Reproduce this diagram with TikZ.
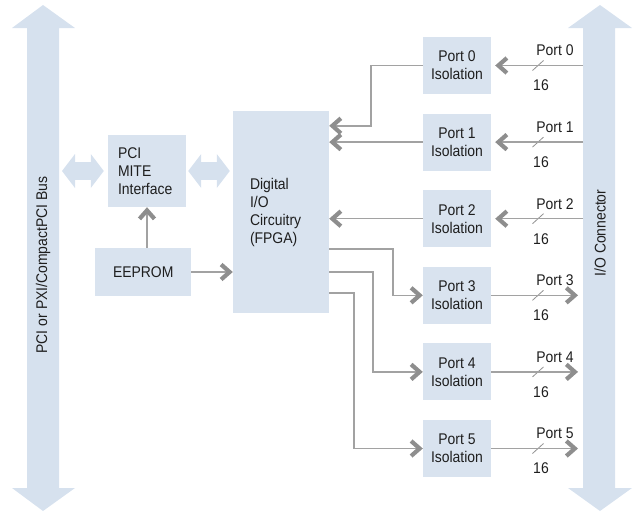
\documentclass[tikz,border=0pt]{standalone}
\usepackage{fontspec}
\setmainfont{Liberation Sans}[FakeStretch=0.9]
\usetikzlibrary{arrows.meta,positioning}

\definecolor{busblue}{HTML}{D6E1EE}
\definecolor{boxblue}{HTML}{D9E3EF}
\definecolor{wiregray}{HTML}{A2A2A2}
\definecolor{chevgray}{HTML}{8E8E8E}
\definecolor{textgray}{HTML}{1E1E1E}

\tikzset{
  chev/.tip={Straight Barb[length=8.5pt,width=15pt,line width=4.2pt,color=chevgray]},
  blockbox/.style={fill=boxblue,draw=none,inner sep=0pt,text=textgray},
  portbox/.style={blockbox,minimum width=68pt,minimum height=57pt,align=center},
  wire/.style={draw=wiregray,line width=1.5pt},
  tick/.style={draw=wiregray!90!black,line width=.8pt},
  fatlink/.style={draw=busblue,line width=18pt,
    {Triangle[length=13pt,width=34pt,line width=0pt]}-{Triangle[length=13pt,width=34pt,line width=0pt]}},
  lbl/.style={text=textgray,inner sep=0pt}
}

\begin{document}
\begin{tikzpicture}[x=1pt,y=-1pt,every node/.style={font=\fontsize{15.5}{18}\selectfont}]
\useasboundingbox (0,0) rectangle (635,512);

% host bus and front connector
\fill[busblue] (43,5) -- (75,28) -- (59,28) -- (59,488) -- (75,488) -- (43,511)
  -- (12,488) -- (27,488) -- (27,28) -- (12,28) -- cycle;
\fill[busblue] (600,5) -- (632,28) -- (615,28) -- (615,488) -- (632,488) -- (600,511)
  -- (568,488) -- (583,488) -- (583,28) -- (568,28) -- cycle;
\node[lbl,rotate=90] (buslbl) at (43,265) {PCI or PXI/CompactPCI Bus};
\node[lbl,rotate=90] (conlbl) at (600,233) {I/O Connector};
\coordinate (busR) at (59,171);

% main blocks
\node[blockbox,minimum width=78pt,minimum height=72pt,text width=58pt,inner xsep=10pt,align=left]
  (mite) at (147,171) {PCI\\MITE\\Interface};
\node[blockbox,minimum width=96pt,minimum height=48pt,text width=60pt,inner xsep=18pt,align=left]
  (eeprom) at (143,272) {EEPROM};
\node[blockbox,minimum width=96pt,minimum height=202pt,text width=62pt,inner xsep=17pt,align=left]
  (fpga) at (281,212) {Digital\\I/O\\Circuitry\\(FPGA)};

\draw[fatlink,shorten <=3pt,shorten >=4pt] (busR) -- (mite.west);
\draw[fatlink,shorten <=2pt,shorten >=3pt] (mite.east) -- (mite.east -| fpga.west);
\draw[wire,-chev] (eeprom.north -| mite.south) -- (mite.south);
\draw[wire,-chev] (eeprom.east) -- (eeprom.east -| fpga.west);

% isolated ports
\foreach \i in {0,...,5}{
  \pgfmathsetmacro{\y}{65.5+76.6*\i}
  \node[portbox] (p\i) at (457,\y) {Port \i\\Isolation};
  \coordinate (c\i) at (583,\y);
  \draw[tick] (532.5,\y+5) -- (543.5,\y-5);
  \node[lbl] (pn\i) at (555,\y-15) {Port \i};
  \node[lbl] (pw\i) at (541,\y+20) {16};
}
\foreach \i in {0,1,2}
  \draw[wire,-chev,shorten >=4pt] (c\i) -- (p\i.east);
\foreach \i in {3,4,5}
  \draw[wire,-chev,shorten >=5pt] (p\i.east) -- (c\i);

\draw[wire,-chev] (p0.west) -- ++(-52,0) |- ([yshift=-15pt]fpga.north east);
\draw[wire,-chev] (p1.west) -- (p1.west -| fpga.east);
\draw[wire,-chev] (p2.west) -- (p2.west -| fpga.east);
\draw[wire,-chev] ([yshift=-138pt]fpga.north east) -| ([xshift=-30pt]p3.west) -- (p3.west);
\draw[wire,-chev] ([yshift=-161pt]fpga.north east) -| ([xshift=-50pt]p4.west) -- (p4.west);
\draw[wire,-chev] ([yshift=-182pt]fpga.north east) -| ([xshift=-69pt]p5.west) -- (p5.west);
\end{tikzpicture}
\end{document}
